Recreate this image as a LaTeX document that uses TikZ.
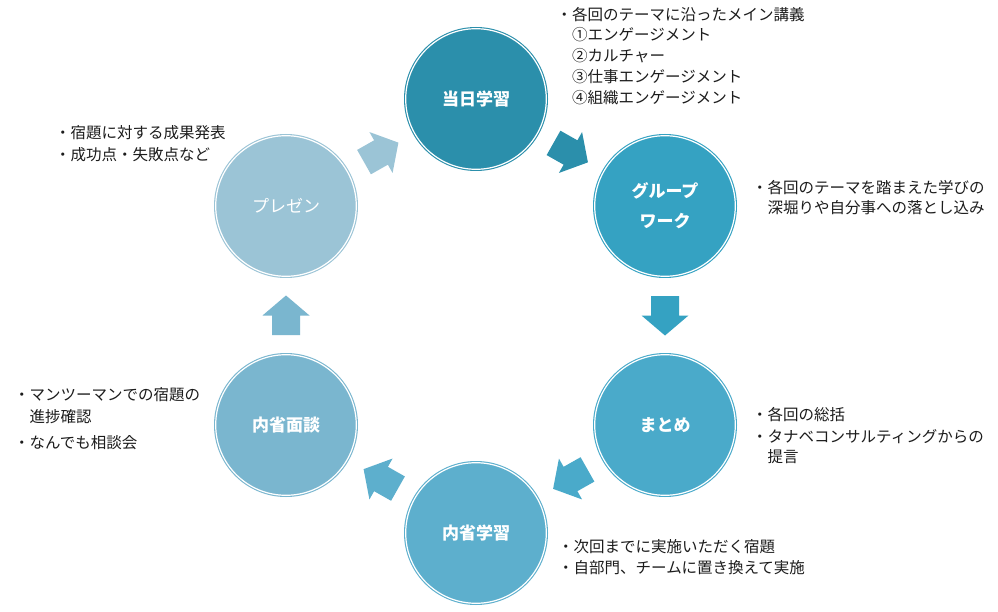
\documentclass[tikz,border=0pt]{standalone}
\usepackage{fontspec}
\setmainfont{Noto Sans CJK JP}
\usetikzlibrary{calc}
\definecolor{cA}{HTML}{2B8FAB}
\definecolor{cB}{HTML}{35A2C2}
\definecolor{cC}{HTML}{4AAACA}
\definecolor{cD}{HTML}{5DAFCD}
\definecolor{cE}{HTML}{7AB6CF}
\definecolor{cF}{HTML}{9BC4D6}
\definecolor{txtc}{HTML}{1C1C1C}
\newcommand{\blk}{\phantom{・}}
\begin{document}
\begin{tikzpicture}[x=1pt,y=-1pt,
  circ/.style={circle, minimum size=144pt, inner sep=0pt, text=white, align=center,
    font=\bfseries\fontsize{17}{30}\selectfont},
  ring/.style={white, line width=1.2pt},
  txt/.style={anchor=west, inner sep=0pt, text=txtc, font=\fontsize{15.5}{21}\selectfont},
  barrow/.style={draw=none}
]
\useasboundingbox[fill=white] (0,0) rectangle (998,612);

% circles
\node[circ, fill=cA] (c1) at (476,99) {当日学習};
\node[circ, fill=cB] (c2) at (665,206) {グループ\\ワーク};
\node[circ, fill=cC] (c3) at (665,425) {まとめ};
\node[circ, fill=cD] (c4) at (476,533) {内省学習};
\node[circ, fill=cE] (c5) at (286,425) {内省面談};
\node[circ, fill=cF, font=\fontsize{17}{30}\selectfont] (c6) at (286,206) {プレゼン};
\foreach \c in {c1,c2,c3,c4,c5,c6}{
  \draw[ring] (\c.center) circle (70.3pt);
}

% block arrows
\foreach \a/\b/\ang/\col in {c1/c2/-29.5/cA, c2/c3/-90/cB, c3/c4/209.5/cC, c4/c5/150.5/cD, c5/c6/90/cE, c6/c1/29.5/cF}{
  \coordinate (m\a) at ($(\a)!0.5!(\b)$);
  \fill[\col, shift={(m\a)}, rotate=\ang]
    (-19.5,-14) -- (0,-14) -- (0,-23.5) -- (20,0) -- (0,23.5) -- (0,14) -- (-19.5,14) -- cycle;
}

% texts
\node[txt] (t1a) at (556.5,15) {・各回のテーマに沿ったメイン講義};
\node[txt] (t1b) at (556.5,35) {\blk ①エンゲージメント};
\node[txt] (t1c) at (556.5,56) {\blk ②カルチャー};
\node[txt] (t1d) at (556.5,77) {\blk ③仕事エンゲージメント};
\node[txt] (t1e) at (556.5,98) {\blk ④組織エンゲージメント};

\node[txt] (t2a) at (752,188) {・各回のテーマを踏まえた学びの};
\node[txt] (t2b) at (752,208) {\blk 深堀りや自分事への落とし込み};

\node[txt] (t3a) at (752,415) {・各回の総括};
\node[txt] (t3b) at (752,437) {・タナベコンサルティングからの};
\node[txt] (t3c) at (752,457) {\blk 提言};

\node[txt] (t4a) at (558,547) {・次回までに実施いただく宿題};
\node[txt] (t4b) at (558,568) {・自部門、チームに置き換えて実施};

\node[txt] (t5a) at (14,395) {・マンツーマンでの宿題の};
\node[txt] (t5b) at (14,417) {\blk 進捗確認};
\node[txt] (t5c) at (14,443) {・なんでも相談会};

\node[txt] (t6a) at (55,133) {・宿題に対する成果発表};
\node[txt] (t6b) at (55,155) {・成功点・失敗点など};
\end{tikzpicture}
\end{document}
